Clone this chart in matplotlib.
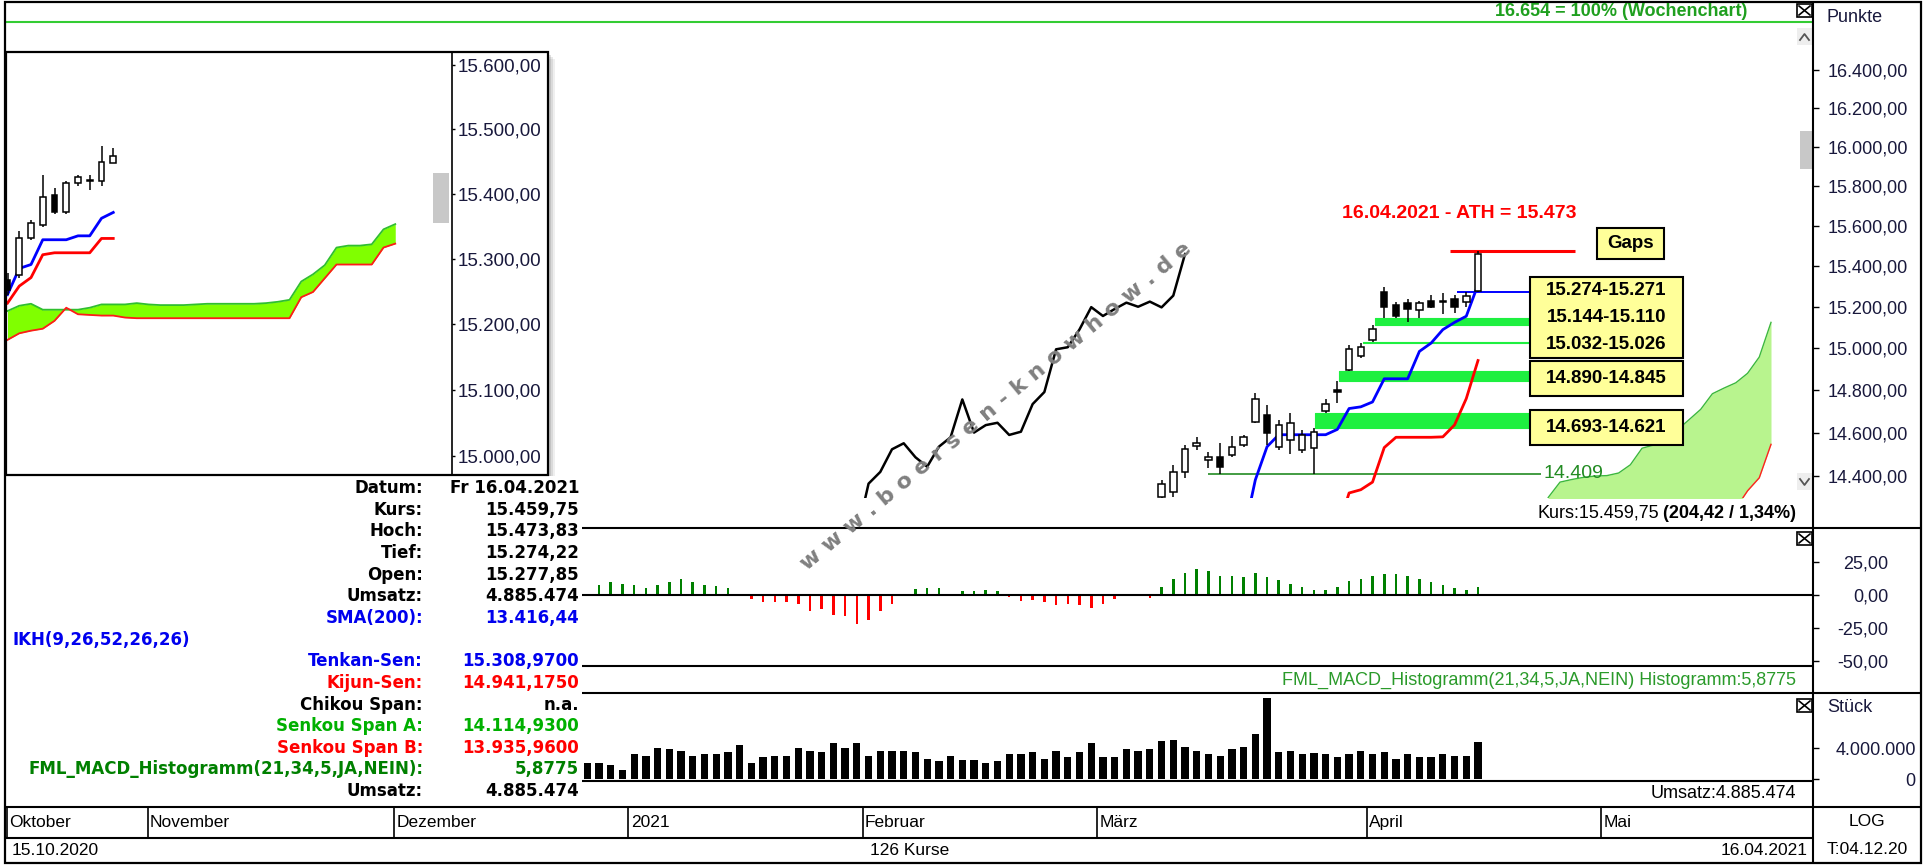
import numpy as np
import matplotlib
matplotlib.use('Agg')
import matplotlib.pyplot as plt
from matplotlib.patches import Rectangle
from matplotlib.ticker import NullLocator, NullFormatter

plt.rcParams['font.family'] = ['Liberation Sans', 'DejaVu Sans']
NARROW = ['Liberation Sans Narrow', 'Liberation Sans', 'DejaVu Sans']

W, H = 1925, 865

# ---------------- daily candles (bar 0 = 15.10.2020, bar 125 = 16.04.2021)
candle_idx = np.arange(97, 126)
opens = np.array([14120, 14301, 14324, 14417, 14537, 14472, 14485, 14495, 14542, 14651,
                  14682, 14534, 14565, 14519, 14527, 14700, 14799, 14895, 14965, 15039,
                  15275, 15210, 15221, 15185, 15231, 15228, 15238, 15222, 15277.85])
highs = np.array([14150, 14382, 14449, 14542, 14578, 14511, 14550, 14584, 14589, 14786,
                  14729, 14659, 14690, 14612, 14621, 14756, 14845, 15016, 15026, 15110,
                  15299, 15226, 15238, 15230, 15259, 15270, 15259, 15271, 15473.83])
lows = np.array([14060, 14293, 14301, 14387, 14519, 14433, 14409, 14487, 14534, 14643,
                 14542, 14519, 14500, 14506, 14409, 14693, 14740, 14890, 14955, 15032,
                 15144, 15145, 15128, 15145, 15194, 15166, 15172, 15200, 15274.22])
closes = np.array([14130, 14363, 14417, 14522, 14550, 14485, 14441, 14534, 14578, 14756,
                   14600, 14635, 14646, 14589, 14604, 14734, 14791, 14995, 15005, 15091,
                   15199, 15156, 15190, 15221, 15201, 15226, 15198, 15255.33, 15459.75])

tenkan_idx = np.arange(105, 126)
tenkan = [14130, 14380, 14534, 14590, 14590, 14590, 14590, 14590, 14615, 14713, 14721,
          14744, 14854, 14854, 14854, 14985, 15025, 15090, 15125, 15155, 15308.97]
kijun_idx = np.arange(113, 126)
kijun = [14150, 14320, 14335, 14370, 14530, 14578, 14578, 14578, 14578, 14580, 14636,
         14760, 14941.175]

cloud_idx = np.arange(126, 151)
span_a = [13980, 14010, 14040, 14090, 14180, 14300, 14370, 14382, 14392, 14398, 14400,
          14412, 14450, 14527, 14542, 14575, 14612, 14660, 14709, 14783, 14810, 14835,
          14880, 14958, 15125]
span_b = [13900, 13900, 13900, 13900, 13900, 13900, 13900, 13900, 13900, 13900, 13920,
          13920, 13950, 13950, 13980, 14000, 14000, 14020, 14050, 14080, 14100, 14250,
          14330, 14390, 14545]

gap_lo = [15271, 15110, 15026, 14845, 14621]
gap_hi = [15274, 15144, 15032, 14890, 14693]
gap_from = [123.2, 116.2, 115.2, 113.1, 111.1]
gap_color = ['#0000ff', '#1ef040', '#1ef040', '#1ef040', '#1ef040']
gap_to = 129.4

support = 14409
support_from = 102
ath = 15473
ath_from, ath_to = 122.6, 133.3
wochen_100 = 16654

macd_idx = np.arange(49, 126)
macd_hist = [1.0, 7.3, 9.8, 8.6, 7.3, 5.3, 7.3, 9.8, 12.3, 9.8, 7.3, 6.5, 5.3, -0.3,
             -2.8, -5.3, -5.3, -5.3, -6.5, -12.3, -10.3, -14.9, -15.9, -21.7, -19.1, -12.3,
             -6.5, 0.3, 4.3, 5.3, 5.3, 1.0, 2.8, 2.8, 4.0, 2.8, -1.5, -4.8, -4.0, -5.3,
             -7.3, -6.5, -7.3, -9.8, -6.5, -2.8, -0.3, -0.3, -2.5, 6.0, 11.8, 16.9, 19.4,
             18.1, 14.4, 14.4, 13.6, 16.9, 13.6, 11.1, 8.6, 6.0, 4.0, 4.0, 6.0, 10.3, 12.3,
             14.4, 16.1, 16.1, 14.4, 12.3, 9.8, 7.3, 5.3, 4.0, 5.8775]

vol_idx = np.arange(49, 126)
vol_mio = [2.04, 2.04, 1.83, 1.17, 3.26, 3.04, 4.04, 3.87, 3.70, 3.04, 3.26, 3.26, 3.48,
           4.48, 2.04, 2.91, 3.04, 3.04, 4.04, 3.70, 3.48, 4.74, 4.04, 4.74, 3.04, 3.70,
           3.70, 3.70, 3.48, 2.61, 2.39, 3.04, 2.48, 2.48, 2.13, 2.30, 3.26, 3.26, 3.48,
           2.61, 3.70, 2.83, 3.48, 4.65, 2.91, 2.91, 3.87, 3.70, 3.87, 4.91, 5.09, 4.22,
           3.70, 3.26, 3.04, 3.87, 4.22, 5.87, 10.57, 3.48, 3.70, 3.26, 3.39, 3.26, 2.83,
           3.26, 3.70, 3.26, 3.48, 2.61, 3.26, 2.83, 2.83, 3.26, 3.04, 3.04, 4.885474]

month_names = ['Oktober', 'November', 'Dezember', '2021', 'Februar', 'März', 'April', 'Mai']
month_start = [0, 12, 33, 53, 73, 93, 116, 136]

price_ticks = [14400, 14600, 14800, 15000, 15200, 15400, 15600, 15800, 16000, 16200, 16400]
macd_ticks = [25, 0, -25, -50]
vol_ticks = [4, 0]

sma200 = 13416.44
senkou_a_now = 14114.93
senkou_b_now = 13935.96

# ---------------- inset (zoomed view)
ins_idx = np.arange(0, 10)
ins_open = [15268, 15275, 15331, 15352, 15398, 15371, 15417, 15421, 15420, 15448]
ins_high = [15278, 15343, 15360, 15429, 15408, 15420, 15429, 15428, 15474, 15470]
ins_low = [15245, 15271, 15329, 15349, 15368, 15368, 15411, 15405, 15412, 15448]
ins_close = [15252, 15332, 15354, 15395, 15371, 15417, 15425, 15420, 15449, 15458]
ins_tenkan = [15245, 15285, 15291, 15329, 15329, 15329, 15335, 15335, 15362, 15371]
ins_kijun = [15232, 15258, 15271, 15306, 15309, 15309, 15309, 15309, 15331, 15331]
ins_cloud_idx = np.arange(0, 34)
ins_span_a = [15220, 15228, 15231, 15222, 15222, 15222, 15222, 15225, 15230, 15230, 15230,
              15232, 15230, 15229, 15229, 15229, 15230, 15231, 15231, 15231, 15231, 15231,
              15232, 15234, 15237, 15265, 15276, 15290, 15317, 15320, 15320, 15322, 15345,
              15353]
ins_span_b = [15176, 15186, 15190, 15193, 15205, 15225, 15215, 15214, 15213, 15213, 15210,
              15209, 15209, 15209, 15209, 15209, 15209, 15209, 15209, 15209, 15209, 15209,
              15209, 15209, 15209, 15241, 15249, 15270, 15291, 15291, 15291, 15291, 15317,
              15323]
ins_ticks = [15000, 15100, 15200, 15300, 15400, 15500, 15600]


def de(v, nd=2):
    s = f'{v:,.{nd}f}'
    return s.replace(',', '#').replace('.', ',').replace('#', '.')


def box(x0, y0, x1, y1):
    return [x0 / W, 1 - y1 / H, (x1 - x0) / W, (y1 - y0) / H]


NAVY = '#18183c'
XL = (-7 / 11.72, 1800 / 11.72)

fig = plt.figure(figsize=(W / 100, H / 100), dpi=100)
fig.patch.set_facecolor('white')


def right_scale(ax, ticks, labels, ha, pad, size=13):
    ax.set_yticks(ticks, labels)
    ax.yaxis.set_minor_locator(NullLocator())
    ax.yaxis.set_minor_formatter(NullFormatter())
    ax.yaxis.tick_right()
    ax.tick_params(axis='y', direction='out', length=4, width=1, pad=pad,
                   labelsize=size, labelcolor=NAVY)
    for lab in ax.get_yticklabels():
        lab.set_ha(ha)
    ax.tick_params(axis='x', bottom=False, labelbottom=False)
    for s in ax.spines.values():
        s.set_visible(False)


def candles(ax, x, o, h, l, c, width):
    o, h, l, c = map(np.asarray, (o, h, l, c))
    ax.vlines(x, l, h, color='black', lw=1.1, zorder=3)
    up = c >= o
    bottom = np.minimum(o, c)
    height = np.maximum(np.abs(c - o), 1.5)
    ax.bar(x, height, bottom=bottom, width=width, color=np.where(up, 'white', 'black'),
           edgecolor='black', linewidth=1.1, zorder=4)


# ---------------- price panel (plot area ends above the "Kurs" status line)
axp = fig.add_axes(box(6, 2, 1813, 498))
axp.patch.set_alpha(0)
axp.set_xlim(*XL)
axp.set_yscale('log')
axp.set_ylim(14297, 16761)
axp.axhline(wochen_100, color='#33cc33', lw=1.5)

axp.fill_between(cloud_idx, span_a, span_b, color='#b8f48e', lw=0, zorder=1)
axp.plot(cloud_idx, span_a, color='#3cb83c', lw=1, zorder=2)
axp.plot(cloud_idx, span_b, color='#ff2020', lw=1, zorder=2)

for lo, hi, x0, col in zip(gap_lo, gap_hi, gap_from, gap_color):
    if hi - lo < 5:
        axp.hlines((lo + hi) / 2, x0, gap_to, color=col, lw=1.4, zorder=2)
    else:
        axp.fill_between([x0, gap_to], lo, hi, color=col, lw=0.8, edgecolor=col, zorder=2)

axp.hlines(support, support_from, 130.4, color='#228b22', lw=1.2, zorder=2)
axp.text(130.6, support, de(support, 0), color='#228b22', fontsize=14, va='center',
         ha='left', zorder=5)
axp.hlines(ath, ath_from, ath_to, color='#ff0000', lw=2.2, zorder=2)

axp.plot(candle_idx - 25, closes, color='black', lw=1.8, zorder=3)
axp.plot(tenkan_idx, tenkan, color='#0000ff', lw=2, zorder=3)
axp.plot(kijun_idx, kijun, color='#ff0000', lw=2, zorder=3)
candles(axp, candle_idx, opens, highs, lows, closes, 0.55)

right_scale(axp, price_ticks, [de(v) for v in price_ticks], 'left', 6.5)

# ---------------- MACD histogram
axm = fig.add_axes(box(6, 528, 1813, 666))
axm.set_xlim(*XL)
axm.set_ylim(-53.6, 50.6)
mh = np.array(macd_hist)
axm.bar(macd_idx, mh, width=0.22, color=np.where(mh >= 0, '#008000', '#ff0000'))
axm.axhline(0, color='black', lw=1.5)
right_scale(axm, macd_ticks, [de(v) for v in macd_ticks], 'right', 50)

# ---------------- volume
axv = fig.add_axes(box(6, 693, 1813, 781))
axv.set_xlim(*XL)
axv.set_ylim(-0.26, 11.22)
axv.bar(vol_idx, vol_mio, width=0.62, color='black')
right_scale(axv, vol_ticks, [de(v * 1e6, 0) for v in vol_ticks], 'right', 70)

# ---------------- time axis rows
axb = fig.add_axes(box(6, 807, 1813, 838))
axb.set_xlim(*XL)
axb.set_ylim(0, 1)
axb.axis('off')
axb.vlines(np.array(month_start) - 0.5, 0, 1, color='black', lw=1.2)
for name, ms in zip(month_names, month_start):
    axb.text(ms - 0.3, 0.5, name, va='center', ha='left', fontsize=12.5, family=NARROW)

axd = fig.add_axes(box(6, 838, 1813, 863))
axd.axis('off')
axd.text(0.003, 0.5, '15.10.2020', va='center', ha='left', fontsize=12.5, family=NARROW,
         transform=axd.transAxes)
axd.text(0.5, 0.5, f'{len(macd_idx) + 49} Kurse', va='center', ha='center', fontsize=12.5,
         family=NARROW, transform=axd.transAxes)
axd.text(0.997, 0.5, '16.04.2021', va='center', ha='right', fontsize=12.5, family=NARROW,
         transform=axd.transAxes)

# ---------------- inset background / shadow
ov0 = fig.add_axes([0, 0, 1, 1], zorder=3)
ov0.set_xlim(0, W)
ov0.set_ylim(H, 0)
ov0.axis('off')
ov0.patch.set_alpha(0)
for d, a in [(7, 0.12), (5, 0.18), (3, 0.25)]:
    ov0.add_patch(Rectangle((6 + d, 52 + d), 542, 423, color='#808080', alpha=a, lw=0))
ov0.add_patch(Rectangle((6, 52), 542, 423, facecolor='white', edgecolor='none'))

# ---------------- inset chart
ins = fig.add_axes(box(6, 52, 452, 475), zorder=4)
ins.set_xlim(-0.128, 37.83)
ins.set_yscale('log')
ins.set_ylim(14972, 15620)
ins.fill_between(ins_cloud_idx, ins_span_a, ins_span_b, color='#80ff00', lw=0)
ins.plot(ins_cloud_idx, ins_span_a, color='#2fbf2f', lw=1.3)
ins.plot(ins_cloud_idx, ins_span_b, color='#ff1a1a', lw=1.3)
ins.plot(ins_idx, ins_tenkan, color='#0000ff', lw=2)
ins.plot(ins_idx, ins_kijun, color='#ff0000', lw=2)
candles(ins, ins_idx, ins_open, ins_high, ins_low, ins_close, 0.5)
right_scale(ins, ins_ticks, [de(v) for v in ins_ticks], 'left', 2, size=13.5)
ins.tick_params(axis='y', length=2)

# ---------------- overlay: frames, labels, annotations
ov = fig.add_axes([0, 0, 1, 1], zorder=5)
ov.set_xlim(0, W)
ov.set_ylim(H, 0)
ov.axis('off')
ov.patch.set_alpha(0)


def hline(y, x0, x1, lw=1.5):
    ov.plot([x0, x1], [y, y], color='black', lw=lw, solid_capstyle='butt')


def vline(x, y0, y1, lw=1.5):
    ov.plot([x, x], [y0, y1], color='black', lw=lw, solid_capstyle='butt')


# data panel
ov.add_patch(Rectangle((6, 476), 576, 331, facecolor='white', edgecolor='none'))
BLUE, RED, GREEN, DGREEN = '#0000ee', '#ff0000', '#00b000', '#008000'
vol_last = int(round(vol_mio[-1] * 1e6))
rows = [('Datum:', 'Fr 16.04.2021', 'black'),
        ('Kurs:', de(closes[-1]), 'black'),
        ('Hoch:', de(highs[-1]), 'black'),
        ('Tief:', de(lows[-1]), 'black'),
        ('Open:', de(opens[-1]), 'black'),
        ('Umsatz:', de(vol_last, 0), 'black'),
        ('SMA(200):', de(sma200), BLUE),
        (None, None, BLUE),
        ('Tenkan-Sen:', de(tenkan[-1], 4), BLUE),
        ('Kijun-Sen:', de(kijun[-1], 4), RED),
        ('Chikou Span:', 'n.a.', 'black'),
        ('Senkou Span A:', de(senkou_a_now, 4), GREEN),
        ('Senkou Span B:', de(senkou_b_now, 4), RED),
        ('FML_MACD_Histogramm(21,34,5,JA,NEIN):', de(macd_hist[-1], 4), DGREEN),
        ('Umsatz:', de(vol_last, 0), 'black')]
for k, (lab, val, col) in enumerate(rows):
    y = 488 + 21.65 * k
    if lab is None:
        ov.text(12, y, 'IKH(9,26,52,26,26)', ha='left', va='center', color=BLUE,
                fontsize=12, fontweight='bold', family='DejaVu Sans')
        continue
    ov.text(423, y, lab, ha='right', va='center', color=col, fontsize=12,
            fontweight='bold', family='DejaVu Sans')
    ov.text(579, y, val, ha='right', va='center', color=col, fontsize=12,
            fontweight='bold', family='DejaVu Sans')

# frame lines
ov.add_patch(Rectangle((5, 2), 1916, 861, fill=False, edgecolor='black', lw=1.6))
vline(1813, 2, 863)
hline(528, 582, 1921)
hline(666, 582, 1813)
hline(693, 582, 1921)
hline(781, 582, 1813)
hline(807, 5, 1921)
hline(838, 5, 1813)

# inset frame
ov.add_patch(Rectangle((6, 52), 542, 423, fill=False, edgecolor='black', lw=1.6))
vline(452, 52, 475, lw=1.2)
ov.add_patch(Rectangle((433, 173), 16, 50, facecolor='#c8c8c8', edgecolor='none'))

# right column texts
ov.text(1827, 17, 'Punkte', va='center', ha='left', fontsize=13, color=NAVY)
ov.text(1827, 708, 'Stück', va='center', ha='left', fontsize=13, color=NAVY)
ov.text(1867, 821, 'LOG', va='center', ha='center', fontsize=12.5, family=NARROW)
ov.text(1867, 849, 'T:04.12.20', va='center', ha='center', fontsize=12.5, family=NARROW)

# close boxes and scroll elements
for yb in (4, 532, 699):
    ov.add_patch(Rectangle((1797, yb), 15, 13, facecolor='white', edgecolor='black', lw=1.2))
    ov.plot([1799, 1810], [yb + 2, yb + 11], color='black', lw=1.2)
    ov.plot([1799, 1810], [yb + 11, yb + 2], color='black', lw=1.2)
ov.add_patch(Rectangle((1797, 28), 15, 17, facecolor='#eeeeee', edgecolor='none'))
ov.plot([1800, 1804.5, 1809], [40, 34, 40], color='#555555', lw=1.3)
ov.add_patch(Rectangle((1797, 473), 15, 17, facecolor='#eeeeee', edgecolor='none'))
ov.plot([1800, 1804.5, 1809], [479, 485, 479], color='#555555', lw=1.3)
ov.add_patch(Rectangle((1800, 131), 12, 38, facecolor='#c8c8c8', edgecolor='none'))

# headline on top band
ov.text(1747, 12, f'{de(wochen_100, 0)} = 100% (Wochenchart)', ha='right', va='center',
        color='#1f9f1f', fontsize=13, fontweight='bold')

# ATH label
ov.text(1459, 214, f'16.04.2021 - ATH = {de(ath, 0)}', ha='center', va='center',
        color='#ff0000', fontsize=14, fontweight='bold')

# gap boxes
YEL = '#ffff99'
ov.add_patch(Rectangle((1597, 228), 67, 31, facecolor=YEL, edgecolor='black', lw=1.5))
ov.text(1630.5, 243.5, 'Gaps', ha='center', va='center', fontsize=13.5, fontweight='bold')
gap_boxes = [(277, 358, [0, 1, 2]), (361, 396, [3]), (410, 445, [4])]
for y0, y1, members in gap_boxes:
    ov.add_patch(Rectangle((1530, y0), 153, y1 - y0, facecolor=YEL, edgecolor='black', lw=1.5))
    step = (y1 - y0) / len(members)
    for j, g in enumerate(members):
        ov.text(1606.5, y0 + step * (j + 0.5), f'{de(gap_hi[g], 0)}-{de(gap_lo[g], 0)}',
                ha='center', va='center', fontsize=13.5, fontweight='bold')

# watermark
ov.text(996, 406, ' '.join('www.boersen-knowhow.de'), rotation=39.7,
        rotation_mode='anchor', ha='center', va='center', fontsize=16,
        fontweight='bold', color='#808080', family='DejaVu Sans')

# status texts
chg = closes[-1] - closes[-2]
pct = chg / closes[-2] * 100
tb = ov.text(1796, 513, f'({de(chg)} / {de(pct)}%)', ha='right', va='center',
             fontsize=13, fontweight='bold')
fig.canvas.draw()
bb = tb.get_window_extent()
x_left = ov.transData.inverted().transform((bb.x0, bb.y0))[0]
ov.text(x_left - 4, 513, f'Kurs:{de(closes[-1])}', ha='right', va='center', fontsize=13)

ov.text(1796, 680, f'FML_MACD_Histogramm(21,34,5,JA,NEIN) Histogramm:{de(macd_hist[-1], 4)}',
        ha='right', va='center', fontsize=13, color='#2a9a2a', family=NARROW)
ov.text(1796, 794, f'Umsatz:{de(vol_last, 0)}', ha='right', va='center', fontsize=13,
        family=NARROW)

fig.savefig('out.png', dpi=100, facecolor='white')
